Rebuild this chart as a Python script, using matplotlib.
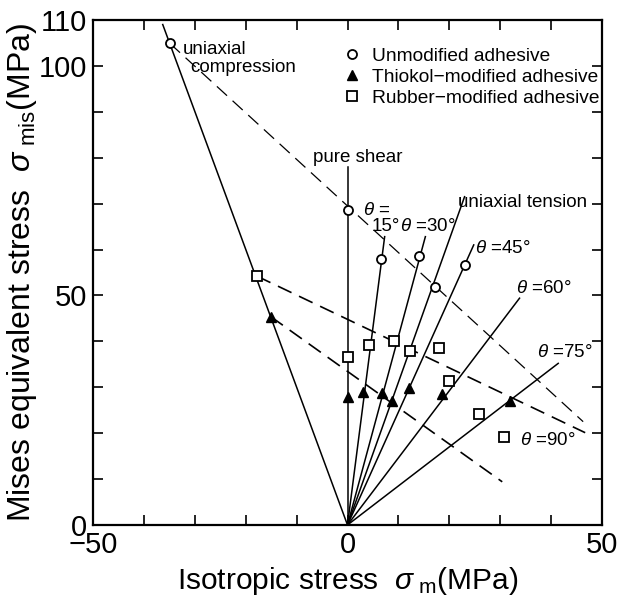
import numpy as np
import matplotlib
matplotlib.use('Agg')
import matplotlib.pyplot as plt
from matplotlib.ticker import MultipleLocator, FixedLocator

plt.rcParams['font.family'] = ['Liberation Sans', 'DejaVu Sans']
plt.rcParams['mathtext.fontset'] = 'custom'
plt.rcParams['mathtext.rm'] = 'Liberation Sans'
plt.rcParams['mathtext.it'] = 'Liberation Sans:italic'

# measured failure points (sigma_m, sigma_mis) in MPa
unmod_x = [-34.9, 0.0, 6.5, 14.1, 17.1, 23.1]
unmod_y = [104.9, 68.5, 58.0, 58.6, 51.8, 56.6]

thio_x = [-15.1, 0.0, 3.1, 6.8, 8.7, 12.1, 18.5, 31.9]
thio_y = [45.4, 27.8, 29.0, 28.8, 26.9, 29.8, 28.5, 27.1]

rub_x = [-17.8, 0.0, 4.2, 9.2, 12.3, 18.0, 19.9, 25.8, 30.8]
rub_y = [54.2, 36.5, 39.1, 40.1, 37.8, 38.6, 31.4, 24.1, 19.2]

# loading paths from the origin (end points)
path_x = [-36.3, 0.0, 7.3, 15.3, 23.0, 24.8, 33.8, 41.4]
path_y = [109.0, 78.0, 62.8, 62.8, 71.5, 61.0, 49.4, 35.2]

# linear failure criteria (end points)
unmod_fit_x = [-34.9, 46.3]
unmod_fit_y = [104.9, 22.5]
rub_fit_x = [-17.8, 46.7]
rub_fit_y = [54.2, 20.1]
thio_fit_x = [-15.1, 30.4]
thio_fit_y = [45.4, 9.4]

fig = plt.figure(figsize=(6.18, 6.01), dpi=100)
ax = fig.add_axes([0.1505, 0.1265, 0.8236, 0.8403])

for xe, ye in zip(path_x, path_y):
    ax.plot([0, xe], [0, ye], color='k', lw=1.1, zorder=2)

ax.plot(unmod_fit_x, unmod_fit_y, color='k', lw=0.9, ls=(0, (11, 6)), zorder=2)
ax.plot(rub_fit_x, rub_fit_y, color='k', lw=1.2, ls=(0, (9, 5)), zorder=2)
ax.plot(thio_fit_x, thio_fit_y, color='k', lw=1.2, ls=(0, (9, 5)), zorder=2)

ax.plot(unmod_x, unmod_y, 'o', ms=6.5, mfc='white', mec='k', mew=1.3,
        ls='none', zorder=3, label='Unmodified adhesive')
ax.plot(thio_x, thio_y, '^', ms=6.5, mfc='k', mec='k', mew=1.0,
        ls='none', zorder=3, label='Thiokol\u2212modified adhesive')
ax.plot(rub_x, rub_y, 's', ms=7.5, mfc='white', mec='k', mew=1.3,
        ls='none', zorder=3, label='Rubber\u2212modified adhesive')

leg = ax.legend(loc='upper left', bbox_to_anchor=(0.49, 0.946), frameon=False,
                fontsize=13.8, handlelength=1.0, handletextpad=0.55,
                labelspacing=0.2, borderpad=0, borderaxespad=0)

fs = 13.5
ax.text(-32.3, 103.5, 'uniaxial', fontsize=fs, va='center', ha='left')
ax.text(-30.9, 99.6, 'compression', fontsize=fs, va='center', ha='left')
ax.text(-6.8, 80.0, 'pure shear', fontsize=fs, va='center', ha='left')
ax.text(3.0, 68.6, r'$\theta$ =', fontsize=fs, va='center', ha='left')
ax.text(4.8, 65.0, '15°', fontsize=fs, va='center', ha='left')
ax.text(10.4, 65.0, r'$\theta$ =30°', fontsize=fs, va='center', ha='left')
ax.text(21.7, 70.2, 'uniaxial tension', fontsize=fs, va='center', ha='left')
ax.text(25.0, 60.3, r'$\theta$ =45°', fontsize=fs, va='center', ha='left')
ax.text(33.2, 51.6, r'$\theta$ =60°', fontsize=fs, va='center', ha='left')
ax.text(37.2, 37.5, r'$\theta$ =75°', fontsize=fs, va='center', ha='left')
ax.text(33.9, 18.5, r'$\theta$ =90°', fontsize=fs, va='center', ha='left')

ax.set_xlim(-50, 50)
ax.set_ylim(0, 110)
ax.xaxis.set_major_locator(FixedLocator([-50, 0, 50]))
ax.xaxis.set_minor_locator(MultipleLocator(10))
ax.yaxis.set_major_locator(FixedLocator([0, 50, 100, 110]))
ax.yaxis.set_minor_locator(MultipleLocator(10))
ax.tick_params(which='both', direction='in', length=7, width=1.2,
               top=True, right=True, labelsize=21, pad=4)
for s in ax.spines.values():
    s.set_linewidth(1.6)

ax.set_xlabel(r'Isotropic stress  $\sigma$$_{\ \rm m}$(MPa)', fontsize=21.5, labelpad=5)
ax.set_ylabel(r'Mises equivalent stress  $\sigma$$_{\ \rm mis}$(MPa)', fontsize=23, labelpad=0)

fig.savefig('out.png', dpi=100)
